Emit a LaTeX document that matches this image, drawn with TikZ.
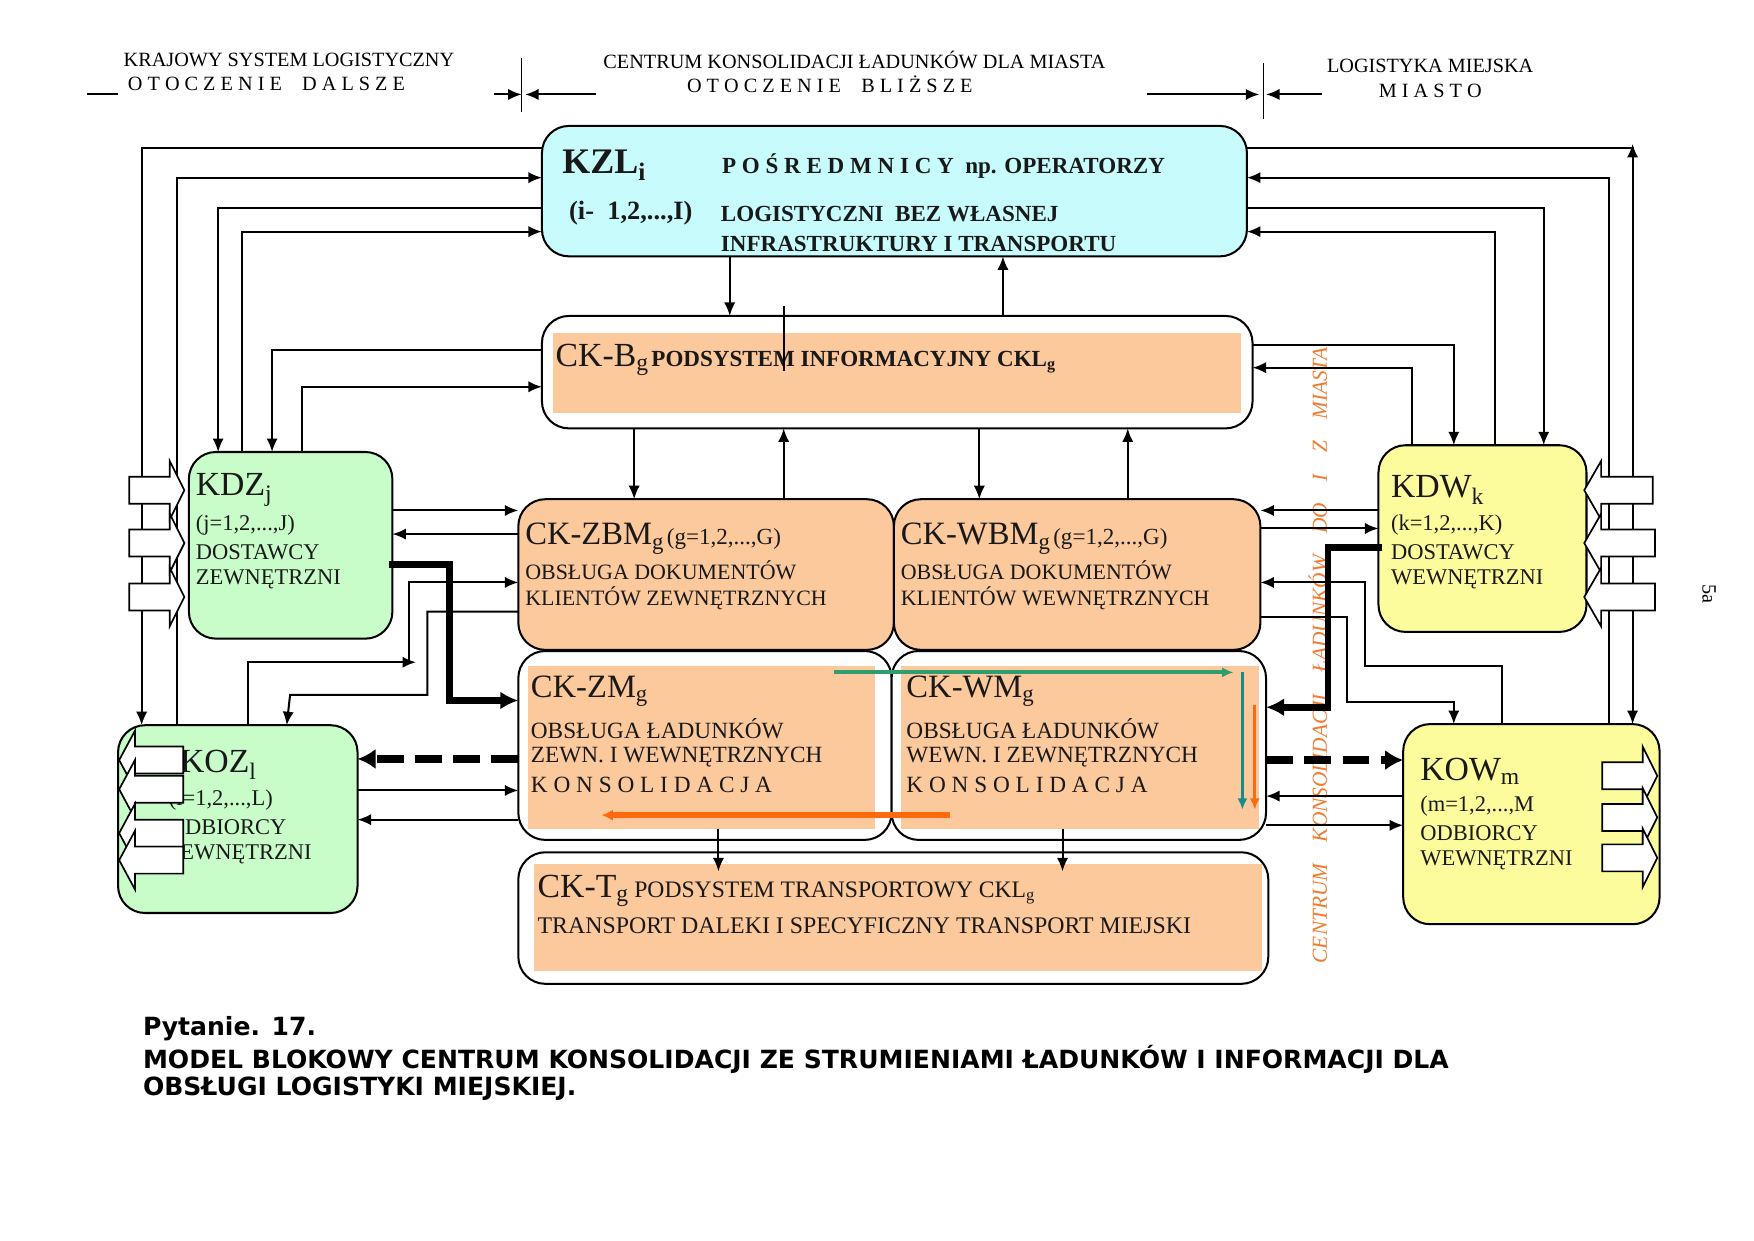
\documentclass[tikz,border=0pt]{standalone}
\usepackage{fontspec}
\setmainfont{Liberation Serif}
\newfontfamily\capfont{DejaVu Sans}
\usetikzlibrary{arrows.meta}
\definecolor{cyanbox}{HTML}{C8FCFC}
\definecolor{orbox}{HTML}{FCC99C}
\definecolor{grbox}{HTML}{C8FCC8}
\definecolor{yebox}{HTML}{FCFC9C}
\definecolor{greenar}{HTML}{2E9E6E}
\definecolor{tealar}{HTML}{1A8A8A}
\definecolor{orar}{HTML}{FF6A10}
\definecolor{ortext}{HTML}{F07A30}
\newcommand{\fs}[1]{\fontsize{#1}{#1}\selectfont}
\newcommand{\bx}[6]{\node[#6, minimum width={(#4-#2)*1pt}, minimum height={(#5-#3)*1pt}, anchor=north west] (#1) at (#2,#3) {};}
\newcommand{\rarr}[4]{\draw[blk] (#1,#4-12) -- (#2,#4-12) -- (#2,#4-26) -- (#3,#4) -- (#2,#4+26) -- (#2,#4+12) -- (#1,#4+12) -- cycle;}
\begin{document}
\begin{tikzpicture}[x=1pt,y=-1pt,
  box/.style={draw=black, line width=1.8pt, rounded corners=24pt, inner sep=0, outer sep=0},
  inner/.style={fill=orbox, inner sep=0, outer sep=0},
  ln/.style={line width=1.8pt},
  ar/.style={line width=1.8pt, -{Latex[length=12pt,width=10pt]}},
  thick/.style={line width=6pt, -{Latex[length=16pt,width=16pt]}},
  dsh/.style={line width=7pt, dash pattern=on 24pt off 10pt, -{Latex[length=16pt,width=18pt]}},
  blk/.style={draw=black, fill=white, line width=1.5pt},
  tx/.style={anchor=west, inner sep=0, text=black!90},
  hd/.style={anchor=center, inner sep=0, font=\fs{18}}]
\useasboundingbox (0,0) rectangle (1560,1103);
% header
\node[hd] (h1) at (257,53) {KRAJOWY SYSTEM LOGISTYCZNY};
\node[hd] (h2) at (237,75) {O T O C Z E N I E \ \ \ D A L S Z E};
\node[hd] (h3) at (760,53) {CENTRUM KONSOLIDACJI ŁADUNKÓW DLA MIASTA};
\node[hd] (h4) at (738,75) {O T O C Z E N I E \ \ \ B L I Ż S Z E};
\node[hd] (h5) at (1272,59) {LOGISTYKA MIEJSKA};
\node[hd] (h6) at (1272,81) {M I A S T O};
\coordinate (v1) at (464,84); \coordinate (v2) at (1120,84);
\draw[ln] (77,84) -- (105,84);
\draw[line width=1.2pt] (464,52) -- (464,100);
\draw[line width=1.2pt] (1124,56) -- (1124,106);
\draw[ar] (439,84) -- (v1);
\draw[ar] (530,84) -- ([xshift=3pt]v1);
\draw[ar] (1020,84) -- (v2);
\draw[ar] (1176,84) -- ([xshift=6pt]v2);
% boxes
\bx{kzl}{482}{112}{1109}{228}{box,fill=cyanbox}
\bx{ckb}{482}{281}{1114}{381}{box,fill=white}
\bx{ckbi}{492}{296}{1104}{367}{inner}
\bx{zbm}{461}{444}{795}{578}{box,fill=orbox}
\bx{wbm}{795}{444}{1121}{578}{box,fill=orbox}
\bx{zm}{461}{579}{793}{747}{box,fill=white}
\bx{zmi}{470}{592}{778}{737}{inner}
\bx{wm}{793}{579}{1126}{747}{box,fill=white}
\bx{wmi}{801}{592}{1120}{737}{inner}
\bx{ckt}{461}{758}{1128}{875}{box,fill=white}
\bx{ckti}{475}{768}{1122}{864}{inner}
\bx{kdz}{168}{402}{349}{568}{box,fill=grbox}
\bx{koz}{105}{645}{318}{812}{box,fill=grbox}
\bx{kdw}{1226}{396}{1411}{562}{box,fill=yebox}
\bx{kow}{1248}{644}{1476}{822}{box,fill=yebox}
% texts
\node[tx,font=\fs{32}\bfseries] (t1) at (500,147) {KZL\textsubscript{i}};
\node[tx,font=\fs{23.5}\bfseries] (t2) at (506,190) {(i-\ \ 1,2,...,I)};
\node[tx,font=\fs{20.5}\bfseries] (t3) at (642,148) {P O Ś R E D M N I C Y \ np. OPERATORZY};
\node[tx,font=\fs{20.5}\bfseries] (t4) at (641,190) {LOGISTYCZNI \ BEZ WŁASNEJ};
\node[tx,font=\fs{20.5}\bfseries] (t5) at (641,217) {INFRASTRUKTURY I TRANSPORTU};
\node[tx] (t6) at (494,320) {{\fs{30}CK-B\textsubscript{g}} {\fs{20.5}\bfseries PODSYSTEM INFORMACYJNY CKL\textsubscript{g}}};
\node[tx] (t7) at (467,479) {{\fs{29}CK-ZBM\textsubscript{g}}\ {\fs{20.5}(g=1,2,...,G)}};
\node[tx,font=\fs{19.5}] (t8) at (467,507) {OBSŁUGA DOKUMENTÓW};
\node[tx,font=\fs{19.5}] (t9) at (467,532) {KLIENTÓW ZEWNĘTRZNYCH};
\node[tx] (t10) at (801,479) {{\fs{29}CK-WBM\textsubscript{g}}\ {\fs{20.5}(g=1,2,...,G)}};
\node[tx,font=\fs{19.5}] (t11) at (801,507) {OBSŁUGA DOKUMENTÓW};
\node[tx,font=\fs{19.5}] (t12) at (801,532) {KLIENTÓW WEWNĘTRZNYCH};
\node[tx,font=\fs{29}] (t13) at (472,615) {CK-ZM\textsubscript{g}};
\node[tx,font=\fs{20.7}] (t14) at (472,648) {OBSŁUGA ŁADUNKÓW};
\node[tx,font=\fs{20.7}] (t15) at (472,673) {ZEWN. I WEWNĘTRZNYCH};
\node[tx,font=\fs{20.7}] (t16) at (472,698) {K O N S O L I D A C J A};
\node[tx,font=\fs{29}] (t17) at (806,615) {CK-WM\textsubscript{g}};
\node[tx,font=\fs{20.7}] (t18) at (806,648) {OBSŁUGA ŁADUNKÓW};
\node[tx,font=\fs{20.7}] (t19) at (806,673) {WEWN. I ZEWNĘTRZNYCH};
\node[tx,font=\fs{20.7}] (t20) at (806,698) {K O N S O L I D A C J A};
\node[tx] (t21) at (478,792) {{\fs{30}CK-T\textsubscript{g}}\ \ {\fs{21}PODSYSTEM TRANSPORTOWY CKL\textsubscript{g}}};
\node[tx,font=\fs{21.2}] (t22) at (478,823) {TRANSPORT DALEKI I SPECYFICZNY TRANSPORT MIEJSKI};
\node[tx,font=\fs{30}] (t23) at (174,436) {KDZ\textsubscript{j}};
\node[tx,font=\fs{20}] (t24) at (174,467) {(j=1,2,...,J)};
\node[tx,font=\fs{20}] (t25) at (174,491) {DOSTAWCY};
\node[tx,font=\fs{20}] (t26) at (174,515) {ZEWNĘTRZNI};
\node[tx,font=\fs{30}] (t27) at (160,680) {KOZ\textsubscript{l}};
\node[tx,font=\fs{20}] (t28) at (150,712) {(l=1,2,...,L)};
\node[tx,font=\fs{20}] (t29) at (150,736) {ODBIORCY};
\node[tx,font=\fs{20}] (t30) at (148,760) {ZEWNĘTRZNI};
\node[tx,font=\fs{30}] (t31) at (1237,436) {KDW\textsubscript{k}};
\node[tx,font=\fs{20}] (t32) at (1237,467) {(k=1,2,...,K)};
\node[tx,font=\fs{20}] (t33) at (1237,491) {DOSTAWCY};
\node[tx,font=\fs{20}] (t34) at (1237,515) {WEWNĘTRZNI};
\node[tx,font=\fs{30}] (t35) at (1263,686) {KOW\textsubscript{m}};
\node[tx,font=\fs{20}] (t36) at (1263,717) {(m=1,2,...,M};
\node[tx,font=\fs{20}] (t37) at (1263,741) {ODBIORCY};
\node[tx,font=\fs{20}] (t38) at (1263,765) {WEWNĘTRZNI};
\node[rotate=90, text=ortext, font=\fs{19}\itshape, inner sep=0] (vt) at (1172,583)
  {CENTRUM \ \ \ KONSOLIDACJI \ \ \ ŁADUNKÓW \ \ \ DO \ \ \ I \ \ \ Z \ \ \ MIASTA};
\node[rotate=-90, font=\fs{18}, inner sep=0] (p5a) at (1520,528) {5a};
\node[anchor=west, inner sep=0, font=\capfont\bfseries\fs{22.3}] (c1) at (127,915) {Pytanie. 17.};
\node[anchor=west, inner sep=0, font=\capfont\bfseries\fs{22.3}] (c2) at (127,942) {MODEL BLOKOWY CENTRUM KONSOLIDACJI ZE STRUMIENIAMI ŁADUNKÓW I INFORMACJI DLA};
\node[anchor=west, inner sep=0, font=\capfont\bfseries\fs{22.3}] (c3) at (127,968) {OBSŁUGI LOGISTYKI MIEJSKIEJ.};
% left connectors
\draw[ar] (482,132) -- (126,132) -- (126,645);
\draw[ar] (157,645) -- (157,158) -- (482,158);
\draw[ar] (482,185) -- (194,185) -- (194,402);
\draw[ar] (215,402) -- (215,206) -- (482,206);
\draw[ar] (482,311) -- (242,311) -- (242,402);
\draw[ar] (269,402) -- (269,344) -- (482,344);
% right connectors
\draw[ar] (1109,132) -- (1452,132) -- (1452,644);
\draw[ar] (1452,150) -- (1452,128);
\draw[ar] (1431,644) -- (1431,158) -- (1109,158);
\draw[ar] (1109,185) -- (1373,185) -- (1373,396);
\draw[ar] (1330,396) -- (1330,206) -- (1109,206);
\draw[ar] (1114,307) -- (1293,307) -- (1293,396);
\draw[ar] (1256,396) -- (1256,327) -- (1114,327);
% center verticals
\draw[ar] (649,228) -- (649,281);
\draw[ar] (892,281) -- (892,228);
\draw[line width=1.5pt] (697,272) -- (697,330);
\draw[ar] (564,381) -- (564,444);
\draw[ar] (697,444) -- (697,381);
\draw[ar] (871,381) -- (871,444);
\draw[ar] (1003,444) -- (1003,381);
\draw[ar] (639,737) -- (639,775);
\draw[ar] (945,737) -- (945,775);
% left middle
\draw[ar] (349,454) -- (461,454);
\draw[ar] (461,475) -- (349,475);
\draw[thick] (346,502) -- (400,502) -- (400,623) -- (461,623);
\draw[ar] (221,645) -- (221,589) -- (370,589);
\draw[ar] (364,589) -- (364,518) -- (461,518);
\draw[ar] (461,544) -- (380,544) -- (380,618) -- (258,618) -- (255,645);
\draw[dsh] (461,675) -- (318,675);
\draw[ar] (318,703) -- (461,703);
\draw[ar] (461,729) -- (318,729);
% right middle
\draw[ar] (1226,454) -- (1121,454);
\draw[ar] (1121,470) -- (1226,470);
\draw[thick] (1229,487) -- (1181,487) -- (1181,629) -- (1126,629);
\draw[ar] (1336,644) -- (1336,592) -- (1214,592) -- (1214,518) -- (1121,518);
\draw[ar] (1121,549) -- (1198,549) -- (1198,624) -- (1293,624) -- (1293,644);
\draw[dsh] (1126,676) -- (1248,676);
\draw[ar] (1248,708) -- (1126,708);
\draw[ar] (1126,734) -- (1248,734);
% coloured arrows
\draw[greenar, line width=3.5pt, -{Latex[length=10pt,width=9pt]}] (742,598) -- (1097,598);
\draw[tealar, line width=3pt, -{Latex[length=10pt,width=9pt]}] (1105,598) -- (1105,720);
\draw[orar, line width=3pt, -{Latex[length=10pt,width=9pt]}] (1116,627) -- (1116,720);
\draw[orar, line width=5pt, -{Latex[length=10pt,width=10pt]}] (845,725) -- (535,725);
% block arrows
\rarr{115}{151}{164}{436}
\rarr{115}{151}{164}{483}
\rarr{115}{151}{164}{531}
\rarr{1470}{1424}{1409}{436}
\rarr{1472}{1424}{1409}{483}
\rarr{1472}{1424}{1409}{531}
\rarr{1425}{1461}{1474}{690}
\rarr{1425}{1461}{1474}{727}
\rarr{1425}{1461}{1474}{763}
\rarr{163}{120}{106}{676}
\rarr{163}{120}{106}{702}
\rarr{163}{120}{106}{741}
\rarr{163}{120}{106}{765}
\end{tikzpicture}
\end{document}
